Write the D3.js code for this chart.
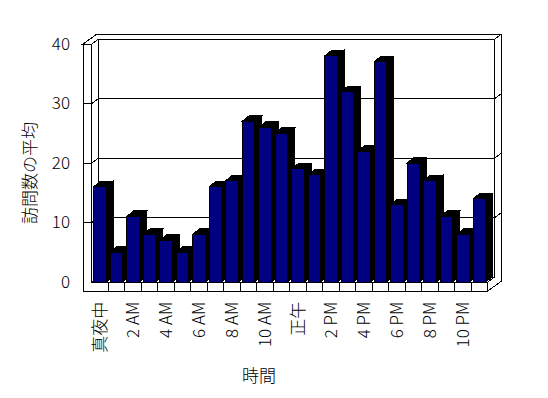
<!DOCTYPE html>
<html>
<head>
<meta charset="utf-8">
<script src="https://cdn.jsdelivr.net/npm/d3@7"></script>
<style>
  body { margin: 0; background: #fff; }
  svg { display: block; }
  text { font-family: "Noto Sans CJK JP", sans-serif; font-weight: 300; }
</style>
</head>
<body>
<script>
// data
const hours = ["真夜中", "1 AM", "2 AM", "3 AM", "4 AM", "5 AM", "6 AM", "7 AM", "8 AM", "9 AM", "10 AM", "11 AM",
               "正午", "1 PM", "2 PM", "3 PM", "4 PM", "5 PM", "6 PM", "7 PM", "8 PM", "9 PM", "10 PM", "11 PM"];
const avgVisits = [16, 5, 11, 8, 7, 5, 8, 16, 17, 27, 26, 25, 19, 18, 38, 32, 22, 37, 13, 20, 17, 11, 8, 14];
const shownHours = ["真夜中", "2 AM", "4 AM", "6 AM", "8 AM", "10 AM", "正午", "2 PM", "4 PM", "6 PM", "8 PM", "10 PM"];
const yTicks = [0, 10, 20, 30, 40];
const gridTicks = [10, 20, 30];

const width = 548, height = 398;

// front plane of the 3d box
let x = d3.scaleBand()
    .domain(hours)
    .range([91.7, 487.7])
    .paddingInner(0.23)
    .paddingOuter(0.115);

let y = d3.scaleLinear()
    .domain([0, 40])
    .range([282, 44]);

const X0 = x.range()[0], X1 = x.range()[1];
const yTop = y(40), yBot = y(0);
const wall = 8.7, floorH = 9;
const DX = 7, DY = -5;       // depth step for walls
const BDX = 7, BDY = -5.6;   // depth of the bars

// project a point of the front plane back by z depth units
const P = (px, py, z) => [px + z * DX, py + z * DY];
const poly = pts => "M" + pts.map(p => p.join(",")).join("L") + "Z";
const line = pts => "M" + pts.map(p => p.join(",")).join("L");

let svg = d3.select("body").append("svg")
    .attr("width", width)
    .attr("height", height);

let box = svg.append("g")
    .attr("fill", "#fff")
    .attr("stroke", "#000")
    .attr("stroke-width", 1)
    .attr("shape-rendering", "crispEdges");

// back wall
box.append("path").attr("d", poly([P(X0, yTop, 1), P(X1, yTop, 1), P(X1, yBot, 1), P(X0, yBot, 1)]));
// left wall inner face
box.append("path").attr("d", poly([P(X0, yTop, 0), P(X0, yTop, 1), P(X0, yBot, 1), P(X0, yBot, 0)]));
// floor top
box.append("path").attr("d", poly([P(X0, yBot, 0), P(X1, yBot, 0), P(X1, yBot, 1), P(X0, yBot, 1)]));
// wall tops
box.append("path").attr("d", poly([P(X0 - wall, yTop, 0), P(X0, yTop, 0), P(X0, yTop, 1),
                                   P(X1, yTop, 1), P(X1, yTop, 2), P(X0 - wall, yTop, 2)]));
// right side of back wall and floor
box.append("path").attr("d", poly([P(X1, yBot, 0), P(X1, yBot, 1), P(X1, yTop, 1), P(X1, yTop, 2),
                                   P(X1, yBot + floorH, 2), P(X1, yBot + floorH, 0)]));
// front of left wall and floor
box.append("path").attr("d", poly([[X0 - wall, yTop], [X0, yTop], [X0, yBot], [X1, yBot],
                                   [X1, yBot + floorH], [X0 - wall, yBot + floorH]]));

// gridlines wrapped round the walls
box.selectAll(".grid")
    .data(gridTicks)
    .enter().append("path")
    .attr("class", "grid")
    .attr("fill", "none")
    .attr("d", v => line([[X0 - wall, y(v)], [X0, y(v)], P(X0, y(v), 1), P(X1, y(v), 1), P(X1, y(v), 2)]));

// category dividers on the floor front
box.selectAll(".div")
    .data(hours.slice(1))
    .enter().append("line")
    .attr("class", "div")
    .attr("x1", d => x(d) - x.step() * x.paddingInner() / 2)
    .attr("x2", d => x(d) - x.step() * x.paddingInner() / 2)
    .attr("y1", yBot)
    .attr("y2", yBot + floorH);

// bars, left to right so each front hides the previous side
let bars = svg.append("g").attr("shape-rendering", "crispEdges");
hours.forEach((h, i) => {
  let xl = x(h), xr = x(h) + x.bandwidth(), yt = y(avgVisits[i]);
  let g = bars.append("g");
  g.append("path")
      .attr("d", poly([[xr, yt], [xr + BDX, yt + BDY], [xr + BDX, yBot + BDY], [xr, yBot]]))
      .attr("fill", "#000").attr("stroke", "#000");
  g.append("path")
      .attr("d", poly([[xl, yt], [xr, yt], [xr + BDX, yt + BDY], [xl + BDX, yt + BDY]]))
      .attr("fill", "#000").attr("stroke", "#000");
  g.append("rect")
      .attr("x", xl)
      .attr("y", yt)
      .attr("width", x.bandwidth())
      .attr("height", yBot - yt)
      .attr("fill", "#000080")
      .attr("stroke", "#000");
});

// y axis labels
let yAxis = d3.axisLeft(y).tickValues(yTicks).tickSize(0).tickPadding(13);
let gy = svg.append("g")
    .attr("transform", "translate(" + (X0 - wall) + ",0)")
    .call(yAxis);
gy.select(".domain").remove();
gy.selectAll("text")
    .attr("font-family", "'Noto Sans CJK JP', sans-serif")
    .attr("font-size", 17)
    .attr("fill", "#000");

// x axis labels, every other hour
let xAxis = d3.axisBottom(x).tickValues(shownHours).tickSize(0);
let gx = svg.append("g")
    .attr("transform", "translate(0," + (yBot + floorH) + ")")
    .call(xAxis);
gx.select(".domain").remove();
gx.selectAll("text")
    .attr("font-family", "'Noto Sans CJK JP', sans-serif")
    .attr("font-size", 17)
    .attr("fill", "#000")
    .attr("transform", "rotate(-90)")
    .attr("x", -10.7)
    .attr("y", 0)
    .attr("dy", "0.35em")
    .style("text-anchor", "end");

// axis titles
svg.append("text")
    .attr("transform", "translate(28.5,173) rotate(-90)")
    .attr("text-anchor", "middle")
    .attr("dominant-baseline", "central")
    .attr("font-size", 17)
    .text("訪問数の平均");

svg.append("text")
    .attr("x", 259)
    .attr("y", 374)
    .attr("text-anchor", "middle")
    .attr("dominant-baseline", "central")
    .attr("font-size", 17)
    .text("時間");
</script>
</body>
</html>
